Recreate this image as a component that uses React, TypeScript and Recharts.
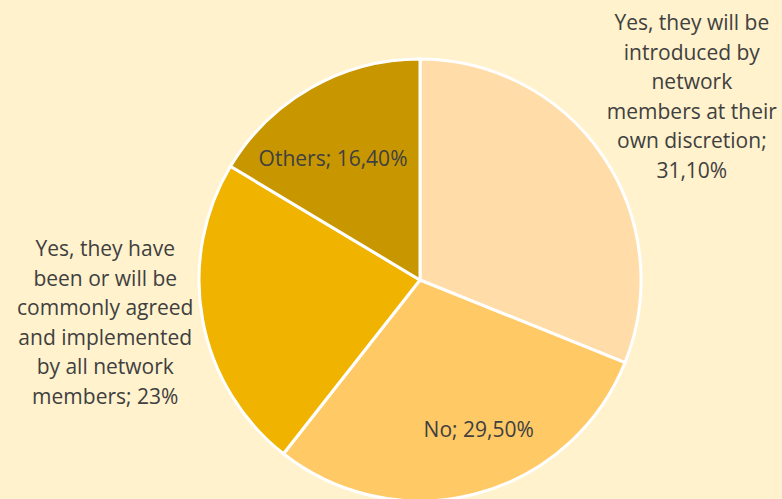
import React from "react";
import { PieChart, Pie, Cell } from "recharts";

const categories = [
  "Yes, they will be introduced by network members at their own discretion",
  "No",
  "Yes, they have been or will be commonly agreed and implemented by all network members",
  "Others",
];
const values = [31.1, 29.5, 23, 16.4];
const labelLines = [
  ["Yes, they will be", "introduced by", "network", "members at their", "own discretion;", "31,10%"],
  ["No; 29,50%"],
  ["Yes, they have", "been or will be", "commonly agreed", "and implemented", "by all network", "members; 23%"],
  ["Others; 16,40%"],
];
const colors = ["#FFDCA8", "#FFC966", "#F0B400", "#C89700"];

const data = categories.map((name, i) => ({ name, value: values[i], lines: labelLines[i] }));

const RAD = Math.PI / 180;
// label placement: radius factor relative to outer radius, plus small nudges
const placement = [
  { f: 1.484, dx: 0, dy: 0 },
  { f: 0.715, dx: 18, dy: -3 },
  { f: 1.439, dx: -2, dy: -15 },
  { f: 0.679, dx: -13, dy: 9 },
];

const renderLabel = (props: any) => {
  const { cx, cy, midAngle, outerRadius, index } = props;
  const p = placement[index];
  const r = outerRadius * p.f;
  const x = cx + r * Math.cos(-midAngle * RAD) + p.dx;
  const y = cy + r * Math.sin(-midAngle * RAD) + p.dy;
  const lines: string[] = data[index].lines;
  const lh = 29.5;
  const n = lines.length;
  return (
    <text
      x={x}
      y={y}
      textAnchor="middle"
      fill="#404040"
      fontFamily="'Open Sans', sans-serif"
      fontSize={21}
    >
      {lines.map((l, i) => (
        <tspan key={i} x={x} y={y + (i - (n - 1) / 2) * lh + 7.5}>
          {l}
        </tspan>
      ))}
    </text>
  );
};

export default function App() {
  return (
    <div
      style={{
        position: "absolute",
        left: 0,
        top: 0,
        width: 782,
        height: 499,
        background: "#FFF2CD",
        overflow: "hidden",
      }}
    >
      <PieChart width={782} height={499} margin={{ top: 0, right: 0, bottom: 0, left: 0 }}>
        <Pie
          data={data}
          dataKey="value"
          nameKey="name"
          cx={420}
          cy={280}
          outerRadius={221}
          startAngle={90}
          endAngle={-270}
          stroke="#FFFFFF"
          strokeWidth={3}
          labelLine={false}
          label={renderLabel}
          isAnimationActive={false}
        >
          {data.map((d, i) => (
            <Cell key={i} fill={colors[i]} />
          ))}
        </Pie>
      </PieChart>
    </div>
  );
}
